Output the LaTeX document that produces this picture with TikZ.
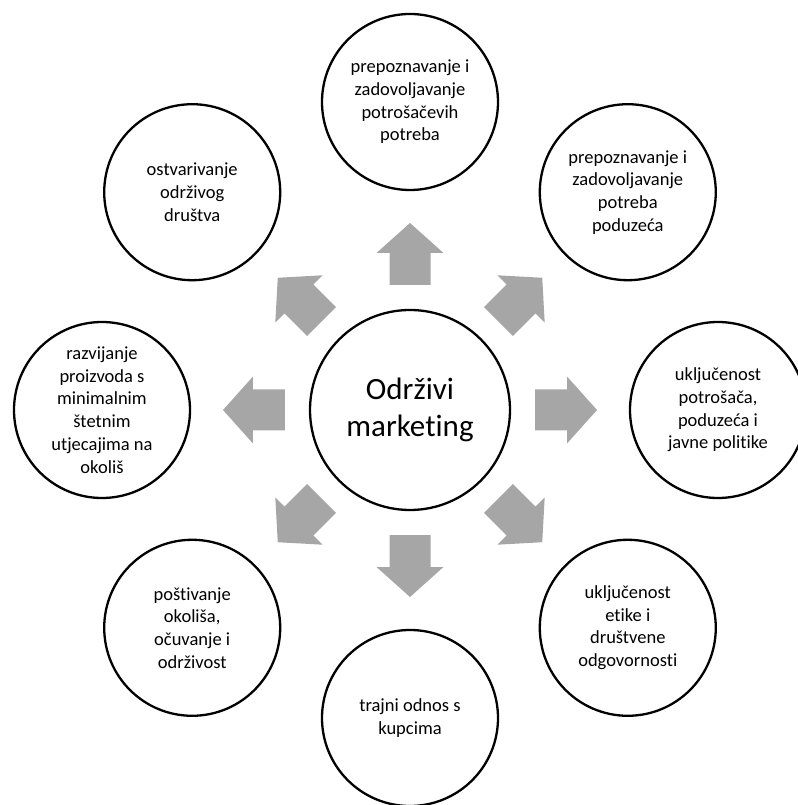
\documentclass[tikz,border=0pt]{standalone}
\usepackage{fontspec}
\setmainfont{Carlito}[Ligatures=NoCommon]
\usepackage{xcolor}
\definecolor{arrowgray}{RGB}{166,166,166}

\begin{document}
\begin{tikzpicture}[x=1pt,y=1pt,
        goal/.style={
            circle,
            draw,
            line width=2.3pt,
            minimum size=176pt,
            inner sep=0pt,
            align=center,
            font=\fontsize{18.5}{22.7}\selectfont
        },
        hub/.style={
            circle,
            draw,
            line width=2.3pt,
            minimum size=200pt,
            inner sep=0pt,
            align=center,
            font=\fontsize{31}{37}\selectfont
        },
        blockarrow/.style={fill=arrowgray}
    ]
        \useasboundingbox (-410,-395) rectangle (387,410);
        % central circle
        \node[hub] (hub) at (0,0) {Održivi\\marketing};
        % outer circles, counter-clockwise from the top
        \node[goal] (needs) at (90:308)
            {prepoznavanje i\\zadovoljavanje\\potrošačevih\\potreba};
        \node[goal] (firm) at (45:308)
            {prepoznavanje i\\zadovoljavanje\\potreba\\poduzeća};
        \node[goal] (policy) at (0:308)
            {uključenost\\potrošača,\\poduzeća i\\javne politike};
        \node[goal] (ethics) at (-45:308)
            {uključenost\\etike i\\društvene\\odgovornosti};
        \node[goal] (customers) at (-90:308)
            {trajni odnos s\\kupcima};
        \node[goal] (environment) at (-135:308)
            {poštivanje\\okoliša,\\očuvanje i\\održivost};
        \node[goal] (products) at (180:308)
            {razvijanje\\proizvoda s\\minimalnim\\štetnim\\utjecajima na\\okoliš};
        \node[goal] (society) at (135:308)
            {ostvarivanje\\održivog\\društva};
        % block arrows from the centre outwards
        \foreach \a in {0,45,...,315}
            \fill[blockarrow,rotate=\a] (125,-20.5) -- (157,-20.5) -- (157,-33.5)
                -- (187,0) -- (157,33.5) -- (157,20.5) -- (125,20.5) -- cycle;
    \end{tikzpicture}
\end{document}
